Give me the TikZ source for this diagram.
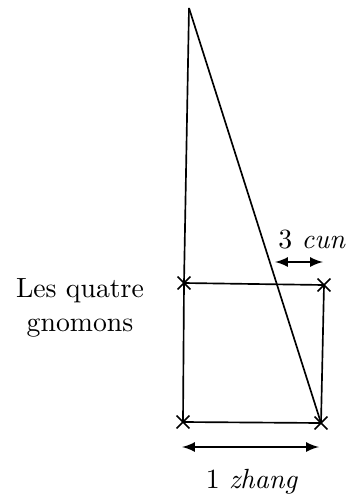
\documentclass[tikz,border=0pt]{standalone}
\usetikzlibrary{shapes.misc}
\tikzset{gnomon/.style={cross out, draw, minimum size=4pt, inner sep=0pt, line width=0.6pt}}
\begin{document}
\begin{tikzpicture}[x=0.36pt, y=-0.36pt, >=latex, line width=0.6pt]
    \useasboundingbox (0,0) rectangle (346,499);
    % Corners
    \coordinate (apex) at (189,8);
    \node[gnomon] (tl) at (184,283) {};
    \node[gnomon] (tr) at (324,285) {};
    \node[gnomon] (bl) at (183,422) {};
    \node[gnomon] (br) at (321,423) {};
    % Square
    \draw (tl.center) -- (tr.center) -- (br.center) -- (bl.center) -- cycle;
    % Triangle
    \draw (apex) -- (tl.center);
    \draw (apex) -- (br.center);
    % Arrows
    \coordinate (c1) at (275,262);
    \coordinate (c2) at (323,262);
    \draw[<->] (c1) -- (c2);
    \node (cun) at (312,240) {3 \textit{cun}};
    \coordinate (z1) at (182,447);
    \coordinate (z2) at (319,447);
    \draw[<->] (z1) -- (z2);
    \node (zhang) at (252,482) {1 \textit{zhang}};
    % Label
    \node[align=center] (gnomons) at (80,308) {Les quatre\\gnomons};
\end{tikzpicture}
\end{document}
